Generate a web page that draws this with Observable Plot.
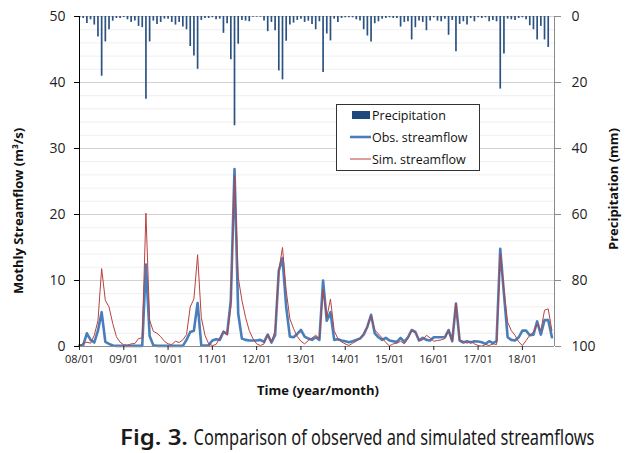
<!DOCTYPE html>
<html>
<head>
<meta charset="utf-8">
<script src="https://cdn.jsdelivr.net/npm/d3@7"></script>
<script src="https://cdn.jsdelivr.net/npm/@observablehq/plot@0.6"></script>
<style>
  html, body { margin: 0; padding: 0; background: #fff; }
  #chart svg { display: block; }
</style>
</head>
<body>
<div id="chart"></div>
<script>
// Monthly series, 2008/01 .. 2018/09 (index 0 = 2008/01)
const precipitation = [
  0.4, 0.6, 2.1, 1.0, 2.6, 6.2, 18.1, 7.7, 4.0, 1.4,
  0.6, 0.6, 0.3, 1.0, 1.8, 1.4, 3.0, 3.4, 25.1, 7.7,
  1.4, 2.4, 1.8, 0.8, 0.8, 1.8, 2.6, 1.8, 3.2, 4.0,
  9.1, 12.0, 16.0, 1.2, 0.6, 0.6, 0.4, 1.0, 0.8, 5.1,
  2.2, 13.1, 33.1, 8.4, 1.2, 1.4, 1.6, 0.2, 0.2, 0.2,
  1.4, 4.6, 1.8, 4.3, 16.5, 19.2, 7.5, 2.6, 2.0, 1.2,
  0.8, 1.8, 1.4, 2.4, 4.0, 1.6, 17.0, 5.3, 7.4, 0.8,
  1.8, 0.6, 0.4, 0.4, 0.4, 1.0, 1.4, 4.0, 5.9, 7.7,
  2.2, 1.6, 0.8, 0.6, 0.4, 0.6, 0.6, 3.2, 1.8, 1.6,
  7.1, 3.4, 1.4, 1.8, 4.3, 1.4, 0.4, 1.4, 1.6, 0.8,
  5.7, 1.2, 10.7, 2.4, 1.6, 2.6, 0.6, 1.6, 0.4, 0.6,
  0.4, 1.6, 1.2, 1.6, 22.0, 11.4, 0.8, 1.0, 1.2, 0.6,
  0.4, 1.0, 2.8, 4.0, 7.1, 3.0, 7.1, 9.4, 0.0
];
const obsStreamflow = [
  0.2, 0.2, 2.0, 1.0, 0.6, 2.4, 5.2, 0.7, 0.4, 0.15,
  0.1, 0.1, 0.1, 0.1, 0.1, 0.1, 0.1, 0.1, 12.4, 1.6,
  0.2, 0.1, 0.1, 0.1, 0.1, 0.1, 0.1, 0.1, 0.1, 1.0,
  2.2, 2.4, 6.6, 0.15, 0.15, 0.2, 0.9, 1.1, 1.0, 2.2,
  1.9, 7.0, 26.9, 5.0, 1.2, 1.0, 0.9, 0.9, 0.9, 1.0,
  0.7, 1.8, 0.6, 1.7, 11.5, 13.4, 6.0, 1.5, 1.4, 1.9,
  2.5, 1.5, 1.2, 1.0, 1.4, 1.0, 10.0, 3.9, 5.2, 1.0,
  1.1, 0.9, 0.8, 0.65, 0.8, 1.0, 1.2, 1.8, 3.0, 4.8,
  2.0, 1.4, 1.0, 1.3, 0.9, 0.8, 0.7, 1.3, 0.7, 1.4,
  2.5, 2.2, 0.9, 1.3, 1.0, 0.9, 1.4, 1.4, 1.4, 1.4,
  2.5, 0.8, 6.5, 0.9, 0.6, 0.8, 0.6, 0.8, 0.75, 0.65,
  0.4, 0.8, 0.5, 0.8, 14.8, 8.0, 1.4, 1.0, 0.9, 1.4,
  2.4, 2.4, 1.7, 1.8, 3.8, 1.8, 4.0, 4.0, 1.4
];
const simStreamflow = [
  0.05, 0.5, 0.65, 0.5, 1.7, 3.9, 11.8, 7.0, 6.0, 3.5,
  1.5, 0.65, 0.25, 0.2, 0.4, 0.45, 1.2, 1.3, 20.2, 4.0,
  2.3, 2.0, 1.5, 0.8, 0.4, 0.3, 0.8, 0.6, 1.0, 1.8,
  6.0, 7.2, 13.9, 4.4, 1.7, 0.4, 0.15, 0.3, 1.3, 2.4,
  1.7, 6.0, 26.0, 10.5, 7.0, 4.4, 2.4, 1.2, 0.4, 0.15,
  0.4, 1.8, 0.7, 2.4, 11.5, 15.0, 8.5, 4.2, 2.7, 1.5,
  0.8, 0.4, 0.9, 1.3, 1.7, 1.2, 8.6, 4.4, 7.2, 2.4,
  1.2, 0.7, 0.4, 0.15, 0.5, 0.8, 1.2, 2.0, 3.0, 4.6,
  2.5, 1.9, 1.3, 0.6, 0.1, 0.4, 0.5, 0.8, 0.4, 1.2,
  2.4, 2.2, 0.9, 1.0, 1.7, 1.3, 0.8, 0.9, 1.0, 1.2,
  2.4, 0.9, 6.5, 1.0, 0.8, 0.5, 0.8, 0.4, 0.15, 0.05,
  0.3, 0.15, 0.4, 0.3, 14.0, 8.5, 3.7, 2.4, 1.7, 0.7,
  0.15, 0.9, 1.7, 2.2, 3.4, 2.4, 5.5, 5.7, 2.4
];
const xTickLabels = ["08/01","09/01","10/01","11/01","12/01","13/01","14/01","15/01","16/01","17/01","18/01"];
const leftTicks = [0, 10, 20, 30, 40, 50];
const rightTickLabels = [0, 20, 40, 60, 80, 100];   // precipitation (mm), 0 at top
const seriesNames = ["Precipitation", "Obs. streamflow", "Sim. streamflow"];

const FLOW_MAX = 50, PREC_MAX = 100;
const toFlow = p => FLOW_MAX - p * FLOW_MAX / PREC_MAX;   // inverted secondary axis

const rows = precipitation.map((p, i) => ({i, p, obs: obsStreamflow[i], sim: simStreamflow[i]}));
const xMax = 128.7;

const C_PREC = "#2c5282", C_OBS = "#4a7ebb", C_SIM = "#b8423f";

const plot = Plot.plot({
  width: 638,
  height: 400,
  marginTop: 16,
  marginBottom: 54,
  marginLeft: 79,
  marginRight: 84,
  style: {fontFamily: "'Open Sans', sans-serif", background: "#fff", color: "#222"},
  x: {domain: [0, xMax], axis: null},
  y: {domain: [0, FLOW_MAX], axis: null},
  marks: [
    Plot.ruleY(d3.range(0, 51, 2).filter(v => v % 10 !== 0), {stroke: "#efefef"}),
    Plot.ruleY([10, 20, 30, 40, 50], {stroke: "#d2d2d2"}),
    Plot.ruleX(rows, {x: "i", y1: FLOW_MAX, y2: d => toFlow(d.p), stroke: C_PREC, strokeWidth: 1.7}),
    Plot.line(rows, {x: "i", y: "obs", stroke: C_OBS, strokeWidth: 2.6, strokeLinejoin: "round"}),
    Plot.line(rows, {x: "i", y: "sim", stroke: C_SIM, strokeWidth: 1}),
    Plot.ruleY([0], {stroke: "#8c8c8c"}),
    Plot.ruleX([xMax], {stroke: "#8c8c8c"}),
    Plot.ruleX([0], {stroke: "#000"}),
    Plot.axisX({
      ticks: xTickLabels.map((_, k) => k * 12),
      tickFormat: d => xTickLabels[d / 12],
      tickSize: 4, tickPadding: 5, fontSize: 11, label: null, stroke: "#222"
    }),
    Plot.axisY({
      anchor: "left", ticks: leftTicks, tickFormat: d => String(d),
      tickSize: 5, tickPadding: 9, fontSize: 14, label: null, stroke: "#000"
    }),
    Plot.axisY({
      anchor: "right", ticks: rightTickLabels.map(toFlow),
      tickFormat: d => String(Math.round((FLOW_MAX - d) * PREC_MAX / FLOW_MAX)),
      tickSize: 6, tickPadding: 11, fontSize: 14, label: null, stroke: "#8c8c8c"
    })
  ]
});

document.getElementById("chart").appendChild(plot);

// Axis titles and legend
const svg = d3.select(plot);
const titles = svg.append("g").attr("font-family", "'Open Sans', sans-serif")
  .attr("font-weight", "bold").attr("font-size", 13).attr("fill", "#111").attr("text-anchor", "middle");
titles.append("text").attr("x", 318).attr("y", 395).text("Time (year/month)");
titles.append("text").attr("transform", "translate(23,211) rotate(-90)").text("Mothly Streamflow (m³/s)");
titles.append("text").attr("transform", "translate(618,189) rotate(-90)").text("Precipitation (mm)");

const lg = svg.append("g").attr("font-family", "'Open Sans', sans-serif").attr("font-size", 12.5)
  .attr("fill", "#111").attr("text-anchor", "start");
lg.append("rect").attr("x", 336.5).attr("y", 104.5).attr("width", 143).attr("height", 66)
  .attr("fill", "#fff").attr("stroke", "#333");
lg.append("rect").attr("x", 352).attr("y", 111).attr("width", 18).attr("height", 8).attr("fill", "#1f497d");
lg.append("line").attr("x1", 350).attr("x2", 371).attr("y1", 137).attr("y2", 137).attr("stroke", C_OBS).attr("stroke-width", 2.6);
lg.append("line").attr("x1", 350).attr("x2", 371).attr("y1", 159).attr("y2", 159).attr("stroke", C_SIM).attr("stroke-width", 1);
[119.5, 141.5, 163.5].forEach((y, k) => lg.append("text").attr("x", 372).attr("y", y).text(seriesNames[k]));

// Caption below the chart (horizontally condensed like the reference typeface)
const cap = d3.select("#chart").append("svg").attr("width", 638).attr("height", 53).style("display", "block");
const capG = cap.append("g").attr("transform", "translate(120,45) scale(0.8,1)")
  .attr("font-family", "'Noto Sans', 'Open Sans', sans-serif")
  .attr("font-size", 22).attr("fill", "#1a1a1a").attr("text-anchor", "start");
capG.append("text").attr("x", 0).attr("y", 0).attr("font-weight", 600)
  .attr("textLength", 85).attr("lengthAdjust", "spacingAndGlyphs").text("Fig. 3.");
capG.append("text").attr("x", 92).attr("y", 0)
  .attr("textLength", 501).attr("lengthAdjust", "spacingAndGlyphs")
  .text("Comparison of observed and simulated streamflows");
</script>
</body>
</html>
